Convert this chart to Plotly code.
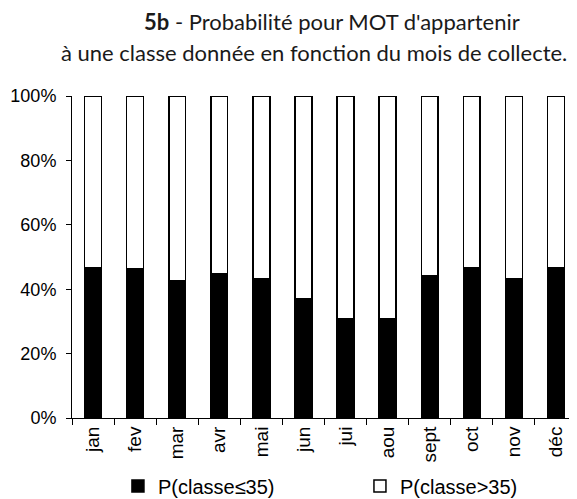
import plotly.graph_objects as go

MOIS = ["jan", "fev", "mar", "avr", "mai", "jun", "jui", "aou", "sept", "oct", "nov", "déc"]
P_INF_35 = [46.7, 46.2, 42.5, 44.9, 43.1, 36.9, 30.7, 30.7, 44.3, 46.7, 43.1, 46.7]
P_SUP_35 = [round(100 - v, 1) for v in P_INF_35]
Y_TICKS = [0, 20, 40, 60, 80, 100]
Y_LABELS = ["0%", "20%", "40%", "60%", "80%", "100%"]

TITRE_1 = "<b>5b</b> - Probabilité pour MOT d'appartenir"
TITRE_2 = "à une classe donnée en fonction du mois de collecte."

TEXT_COLOR = "#000000"
TICK_FONT = "Liberation Sans, Arial, sans-serif"
TITLE_FONT = dict(family="Lato, sans-serif", size=22, color="#1a1a1a")

# la page html garde une marge de 8 px autour du graphique
PAGE_PAD = 8
W, H = 577 - PAGE_PAD, 499 - PAGE_PAD

fig = go.Figure()

fig.add_trace(go.Bar(
    x=MOIS, y=P_INF_35,
    name="P(classe≤35)",
    marker=dict(color="#000000", line=dict(color="#000000", width=1.5)),
    cliponaxis=False,
))
fig.add_trace(go.Bar(
    x=MOIS, y=P_SUP_35,
    name="P(classe>35)",
    marker=dict(color="#ffffff", line=dict(color="#000000", width=1.5)),
    cliponaxis=False,
))

# titre sur deux lignes, une annotation par ligne (boîtes jointives)
TITRE_Y = 1.183
fig.add_annotation(text=TITRE_1, xref="paper", yref="paper", x=0.514, y=TITRE_Y,
                   xanchor="center", yanchor="bottom", showarrow=False, font=TITLE_FONT)
fig.add_annotation(text=TITRE_2, xref="paper", yref="paper", x=0.480, y=TITRE_Y,
                   xanchor="center", yanchor="top", showarrow=False, font=TITLE_FONT)

fig.update_layout(
    barmode="stack",
    bargap=0.6,
    width=W, height=H,
    margin=dict(l=72 - PAGE_PAD, r=0, t=96 - PAGE_PAD, b=81, autoexpand=False),
    paper_bgcolor="#ffffff",
    plot_bgcolor="#ffffff",
    font=dict(family=TICK_FONT, color=TEXT_COLOR, size=19),
    xaxis=dict(
        showline=True, linecolor="#000000", linewidth=1,
        ticks="outside", tickson="boundaries", ticklen=6, tickcolor="#000000",
        tickangle=-90,
        tickfont=dict(size=19),
        showgrid=False,
    ),
    yaxis=dict(
        range=[0, 100],
        tickmode="array",
        tickvals=Y_TICKS,
        ticktext=Y_LABELS,
        showline=True, linecolor="#000000", linewidth=1,
        ticks="outside", ticklen=5, tickcolor="#000000",
        ticklabelstandoff=6,
        tickfont=dict(size=18),
        showgrid=False, zeroline=False,
    ),
    legend=dict(
        orientation="h",
        x=0.091, xanchor="left",
        y=-0.211, yanchor="middle",
        entrywidth=197,
        font=dict(size=20),
        bgcolor="rgba(0,0,0,0)",
        traceorder="normal",
    ),
)

fig.write_html("out.html")
